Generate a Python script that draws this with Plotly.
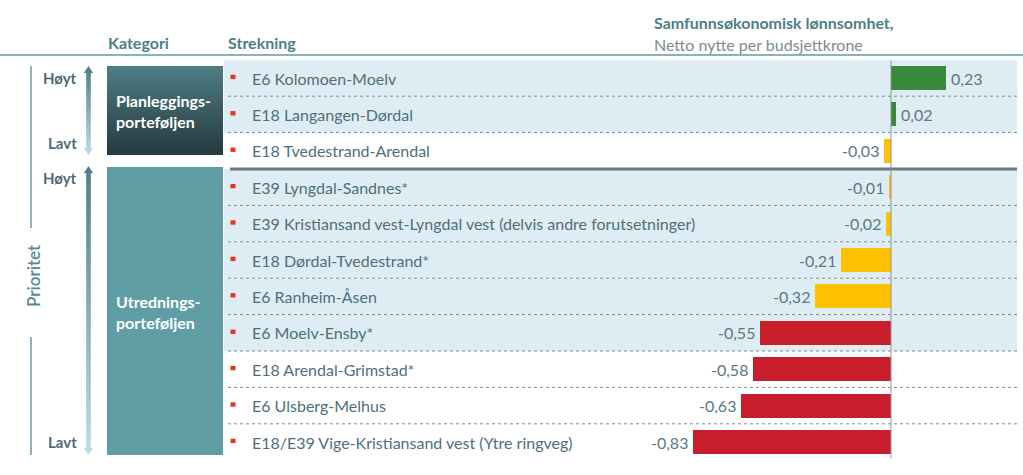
import plotly.graph_objects as go

# ---------------- data ----------------
strekninger = [
    "E6 Kolomoen-Moelv",
    "E18 Langangen-Dørdal",
    "E18 Tvedestrand-Arendal",
    "E39 Lyngdal-Sandnes*",
    "E39 Kristiansand vest-Lyngdal vest (delvis andre forutsetninger)",
    "E18 Dørdal-Tvedestrand*",
    "E6 Ranheim-Åsen",
    "E6 Moelv-Ensby*",
    "E18 Arendal-Grimstad*",
    "E6 Ulsberg-Melhus",
    "E18/E39 Vige-Kristiansand vest (Ytre ringveg)",
]
netto_nytte = [0.23, 0.02, -0.03, -0.01, -0.02, -0.21, -0.32, -0.55, -0.58, -0.63, -0.83]
kategorier = ["Planleggings-<br>porteføljen", "Utrednings-<br>porteføljen"]
prioritet = ["Høyt", "Lavt"]
kolonner = ["Kategori", "Strekning"]
tittel = "Samfunnsøkonomisk lønnsomhet,"
undertittel = "Netto nytte per budsjettkrone"
akse_tekst = "Prioritet"

# ---------------- layout constants (pixels) ----------------
W, H = 1023, 475
ROW0, PITCH = 78.0, 36.4
ZERO_X, SCALE = 891.0, 238.0
FONT = "Lato"
TEAL = "#4d7f86"
LABEL = "#4f6f7c"
VALUE = "#5b7885"
STRIPE = "#deedf3"
striped_rows = [0, 1, 3, 4, 5, 6, 7]

n = len(strekninger)
rows = list(range(n))

def colour(v):
    if v > 0:
        return "#3a8a3c"
    if v > -0.5:
        return "#ffc000"
    return "#c81e2b"

fig = go.Figure()

# bars
fig.add_trace(go.Bar(
    x=netto_nytte, y=rows, orientation="h", width=0.66,
    marker=dict(color=[colour(v) for v in netto_nytte], line=dict(width=0)),
    hoverinfo="skip", xaxis="x", yaxis="y",
))

shapes = []
annotations = []

# row stripes
for r in striped_rows:
    shapes.append(dict(type="rect", xref="x2", yref="y", x0=224, x1=1017,
                       y0=r - 0.5, y1=r + 0.5, fillcolor=STRIPE,
                       line=dict(width=0), layer="below"))
# dotted separators
for r in range(n - 1):
    if r == 2:
        continue
    shapes.append(dict(type="line", xref="x2", yref="y", x0=228, x1=1017,
                       y0=r + 0.5, y1=r + 0.5,
                       line=dict(color="#7f8a90", width=1, dash="dot"), layer="above"))
# thick separator between portfolios
shapes.append(dict(type="line", xref="x2", yref="y", x0=230, x1=1017, y0=2.5, y1=2.5,
                   line=dict(color="#6a777d", width=3), layer="above"))
# zero line
shapes.append(dict(type="line", xref="x", yref="y", x0=0, x1=0, y0=-0.47, y1=10.45,
                   line=dict(color="#8c969b", width=1), layer="above"))
# header line
shapes.append(dict(type="line", xref="x2", yref="y2", x0=0, x1=W, y0=55, y1=55,
                   line=dict(color="#5c9ea5", width=1.5)))
# bullets
for r in rows:
    shapes.append(dict(type="rect", xref="x2", yref="y", x0=230.5, x1=235.5,
                       y0=r - 0.09, y1=r + 0.03, fillcolor="#e0361c",
                       line=dict(width=0)))
# Prioritet axis line
shapes.append(dict(type="line", xref="x2", yref="y2", x0=31, x1=31, y0=66, y1=228,
                   line=dict(color="#6a9aa2", width=1.5)))
shapes.append(dict(type="line", xref="x2", yref="y2", x0=31, x1=31, y0=337, y1=455,
                   line=dict(color="#6a9aa2", width=1.5)))
# Utredning box
shapes.append(dict(type="rect", xref="x2", yref="y2", x0=107, x1=223, y0=167, y1=455,
                   fillcolor="#5f9ea5", line=dict(width=0)))

# Planlegging box (gradient)
fig.add_trace(go.Scatter(
    x=[107, 223, 223, 107, 107], y=[66, 66, 155, 155, 66],
    mode="lines", fill="toself", line=dict(width=0),
    fillgradient=dict(type="vertical", colorscale=[[0, "#4e7e85"], [1, "#26393e"]],
                      start=66, stop=155),
    hoverinfo="skip", xaxis="x2", yaxis="y2",
))

def arrow(cx, yt, yb):
    sw, hw, hh = 2.3, 4.6, 7
    xs = [cx, cx + hw, cx + sw, cx + sw, cx + hw, cx, cx - hw, cx - sw, cx - sw, cx - hw, cx]
    ys = [yt, yt + hh, yt + hh, yb - hh, yb - hh, yb, yb - hh, yb - hh, yt + hh, yt + hh, yt]
    fig.add_trace(go.Scatter(
        x=xs, y=ys, mode="lines", fill="toself", line=dict(width=0),
        fillgradient=dict(type="vertical", colorscale=[[0, "#4c7d85"], [1, "#bcdde6"]],
                          start=yt, stop=yb),
        hoverinfo="skip", xaxis="x2", yaxis="y2",
    ))

arrow(88.5, 66, 155)
arrow(88.5, 166, 455)

# priority labels
for (yh, yl) in [(78, 143), (178, 442)]:
    for txt, yy in zip(prioritet, (yh, yl)):
        annotations.append(dict(xref="x2", yref="y2", x=79, y=yy, text=txt,
                                xanchor="right", yanchor="middle", showarrow=False,
                                font=dict(family=FONT, size=15, color="#4e6a73", weight="bold")))
annotations.append(dict(xref="x2", yref="y2", x=33, y=276, text=akse_tekst, textangle=-90,
                        xanchor="center", yanchor="middle", showarrow=False,
                        font=dict(family=FONT, size=17, color="#5a8a93", weight=600)))

# category labels
for txt, yy in zip(kategorier, (111, 312)):
    annotations.append(dict(xref="x2", yref="y2", x=114, y=yy, text="<b>" + txt + "</b>",
                            xanchor="left", yanchor="middle", align="left", showarrow=False,
                            font=dict(family=FONT, size=16, color="white")))

# headers
annotations.append(dict(xref="x2", yref="y2", x=106, y=42, text="<b>" + kolonner[0] + "</b>",
                        xanchor="left", yanchor="middle", showarrow=False,
                        font=dict(family=FONT, size=16, color=TEAL)))
annotations.append(dict(xref="x2", yref="y2", x=226, y=42, text="<b>" + kolonner[1] + "</b>",
                        xanchor="left", yanchor="middle", showarrow=False,
                        font=dict(family=FONT, size=16, color=TEAL)))
annotations.append(dict(xref="x2", yref="y2", x=652, y=22, text="<b>" + tittel + "</b>",
                        xanchor="left", yanchor="middle", showarrow=False,
                        font=dict(family=FONT, size=16, color=TEAL)))
annotations.append(dict(xref="x2", yref="y2", x=652, y=44, text=undertittel,
                        xanchor="left", yanchor="middle", showarrow=False,
                        font=dict(family=FONT, size=16, color="#808b8e")))

# row labels and values
for r, (name, v) in enumerate(zip(strekninger, netto_nytte)):
    annotations.append(dict(xref="x2", yref="y", x=250, y=r, text=name,
                            xanchor="left", yanchor="middle", showarrow=False,
                            font=dict(family=FONT, size=16, color=LABEL)))
    annotations.append(dict(xref="x", yref="y", x=v, y=r,
                            text=f"{v:.2f}".replace(".", ","),
                            xanchor="left" if v > 0 else "right", yanchor="middle",
                            xshift=3 if v > 0 else -3, showarrow=False,
                            font=dict(family=FONT, size=16, color=VALUE)))

y_top = (0 - ROW0) / PITCH
y_bot = (H - ROW0) / PITCH
fig.update_layout(
    width=W, height=H, margin=dict(l=0, r=0, t=0, b=0),
    paper_bgcolor="white", plot_bgcolor="rgba(0,0,0,0)",
    showlegend=False, hovermode=False, bargap=0,
    xaxis=dict(range=[-ZERO_X / SCALE, (W - ZERO_X) / SCALE], domain=[0, 1],
               visible=False, fixedrange=True),
    yaxis=dict(range=[y_bot, y_top], domain=[0, 1], visible=False, fixedrange=True),
    xaxis2=dict(range=[0, W], overlaying="x", anchor="y2", visible=False, fixedrange=True),
    yaxis2=dict(range=[H, 0], overlaying="y", anchor="x2", visible=False, fixedrange=True),
    shapes=shapes, annotations=annotations,
)

fig.write_html("out.html")
